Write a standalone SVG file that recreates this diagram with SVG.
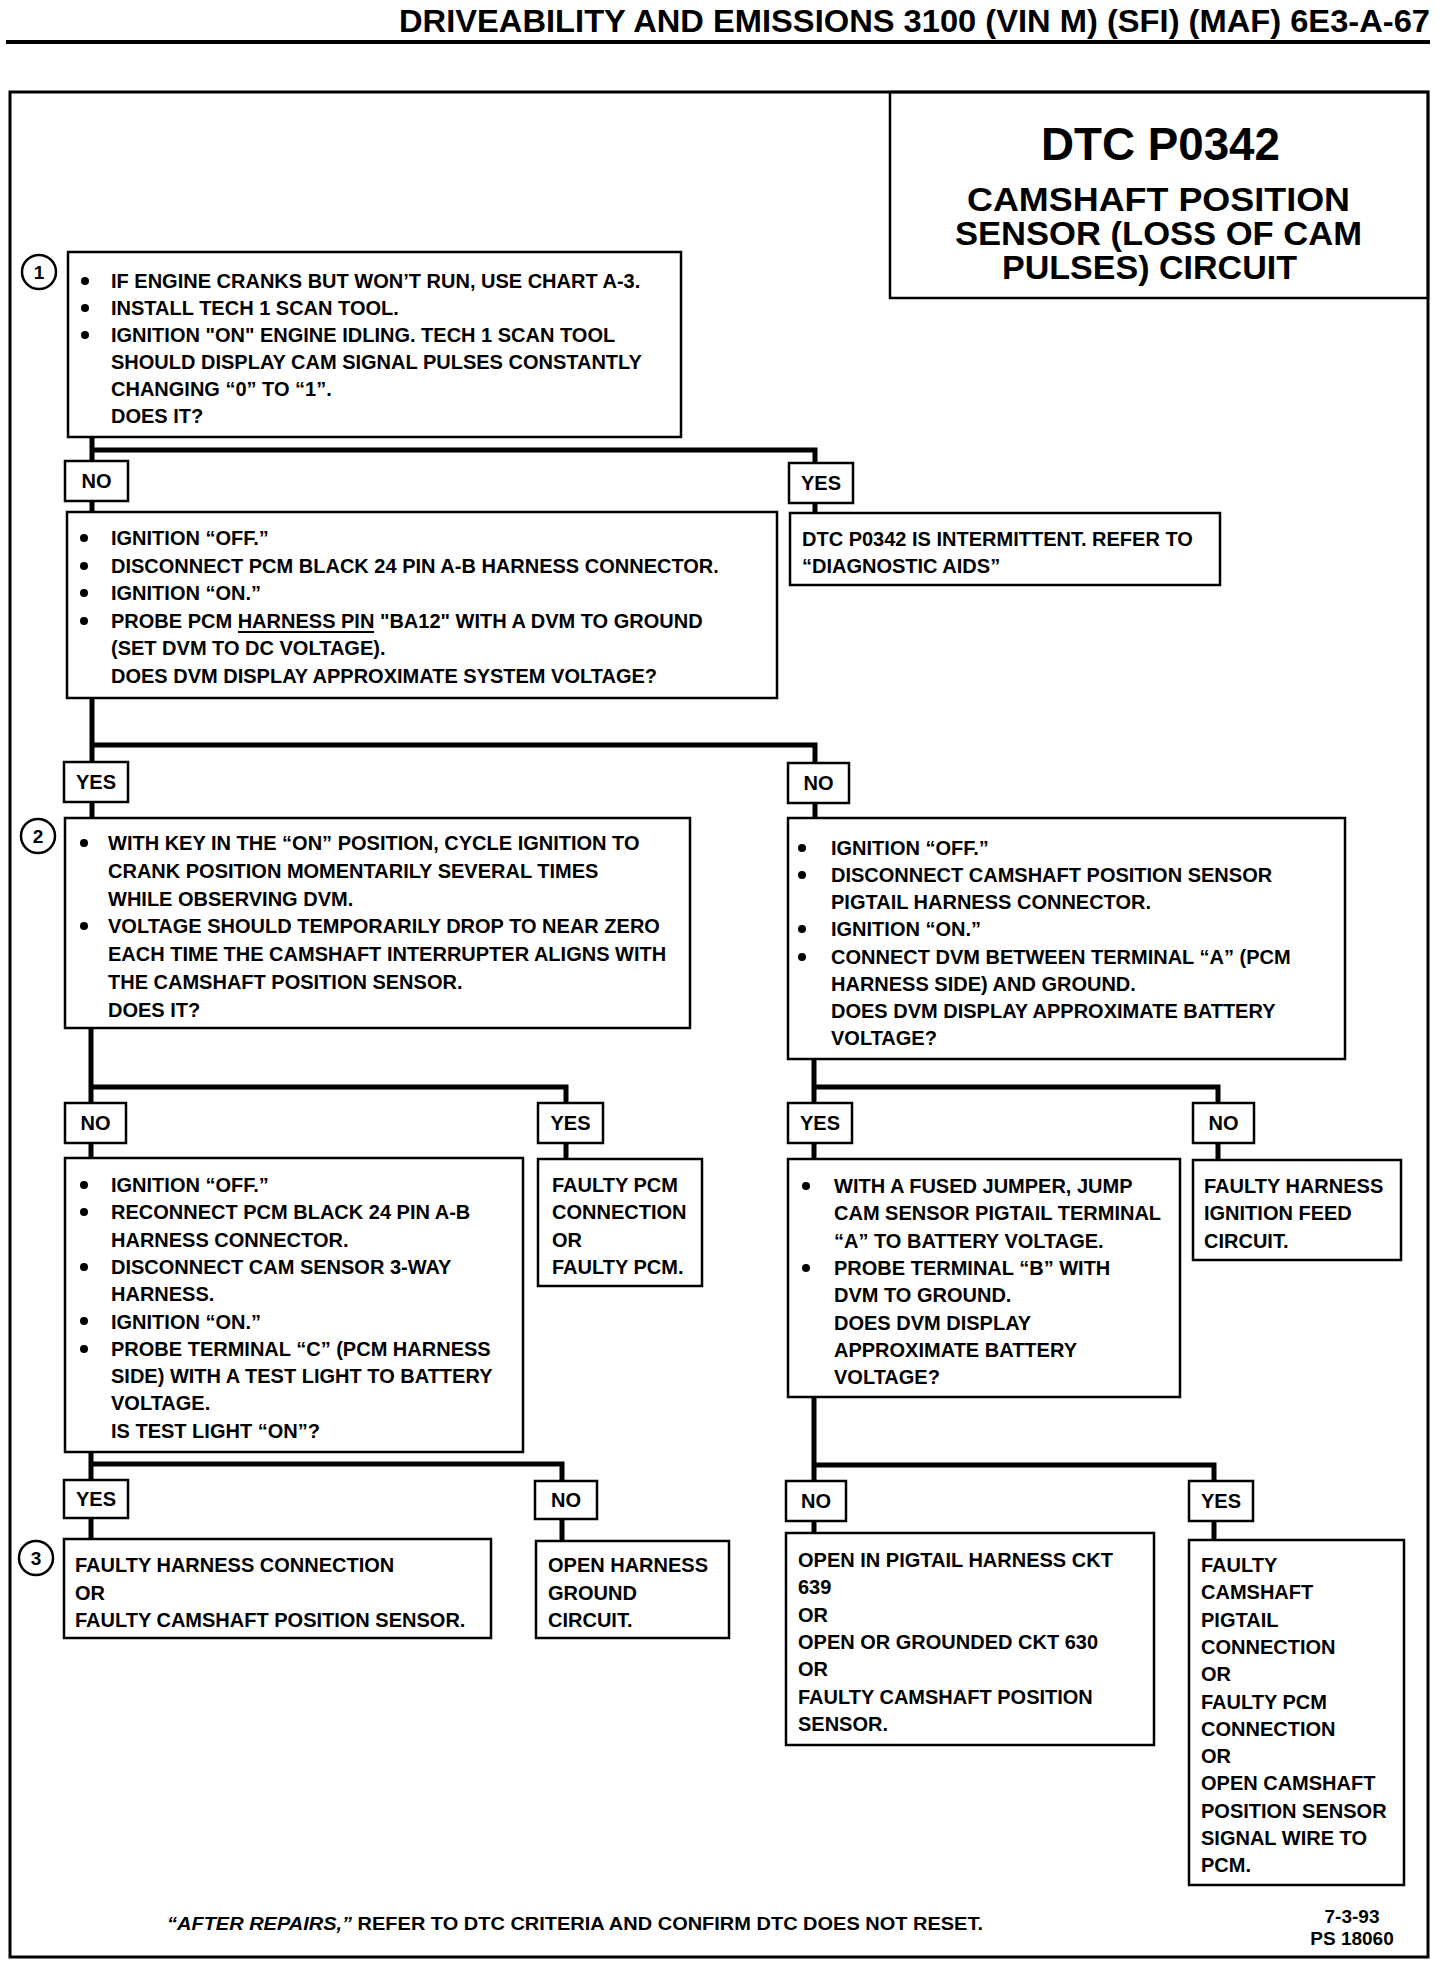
<svg xmlns="http://www.w3.org/2000/svg" width="1456" height="1968" viewBox="0 0 1456 1968">
<style>
.box{fill:#fff;stroke:#000;stroke-width:2.5}
.t{font-family:"Liberation Sans",Arial,sans-serif;font-weight:bold;font-size:20px;fill:#000}
.m{text-anchor:middle}
.c{stroke:#000;stroke-width:5;fill:none}
.num{fill:#fff;stroke:#000;stroke-width:2.5}
.b{fill:#000}
</style>
<rect width="1456" height="1968" fill="#fff"/>
<g id="header">
<text class="t" x="399" y="32" style="font-size:32px" textLength="1031" lengthAdjust="spacingAndGlyphs">DRIVEABILITY AND EMISSIONS  3100  (VIN M)  (SFI)  (MAF)  6E3-A-67</text>
<line x1="6" y1="42" x2="1430" y2="42" stroke="#000" stroke-width="4"/>
</g>
<rect id="frame" x="10" y="92" width="1418" height="1865" fill="none" stroke="#000" stroke-width="3"/>
<g id="title">
<rect x="890" y="92" width="538" height="206" fill="none" stroke="#000" stroke-width="2.5"/>
<text class="t" x="1041" y="160" style="font-size:46px" textLength="239" lengthAdjust="spacingAndGlyphs">DTC P0342</text>
<text class="t" x="967" y="211" style="font-size:34px" textLength="383" lengthAdjust="spacingAndGlyphs">CAMSHAFT POSITION</text>
<text class="t" x="955" y="245" style="font-size:34px" textLength="407" lengthAdjust="spacingAndGlyphs">SENSOR (LOSS OF CAM</text>
<text class="t" x="1002" y="279" style="font-size:34px" textLength="295" lengthAdjust="spacingAndGlyphs">PULSES)  CIRCUIT</text>
</g>
<g id="connectors">
<path class="c" d="M92 437V461M92 450H815V463M92 501V512M815 503V513"/>
<path class="c" d="M92 698V762M92 745H815V763M92 802V818M815 803V818"/>
<path class="c" d="M91 1028V1103M91 1087H566V1103M91 1143V1158M566 1143V1159"/>
<path class="c" d="M814 1059V1103M814 1087H1218V1103M814 1143V1159M1218 1143V1160"/>
<path class="c" d="M91 1452V1480M91 1464H562V1481M91 1518V1539M562 1519V1541"/>
<path class="c" d="M814 1397V1481M814 1465H1214V1481M814 1521V1533M1214 1521V1540"/>
</g>
<g id="labels">
<g id="lbl-no1"><rect class="box" x="65" y="461" width="63" height="40"/><text class="t m" x="96.5" y="488">NO</text></g>
<g id="lbl-yes1"><rect class="box" x="789" y="463" width="64" height="40"/><text class="t m" x="821" y="490">YES</text></g>
<g id="lbl-yes2"><rect class="box" x="64" y="762" width="64" height="40"/><text class="t m" x="96" y="789">YES</text></g>
<g id="lbl-no2"><rect class="box" x="788" y="763" width="61" height="40"/><text class="t m" x="818.5" y="790">NO</text></g>
<g id="lbl-no3"><rect class="box" x="65" y="1103" width="61" height="40"/><text class="t m" x="95.5" y="1130">NO</text></g>
<g id="lbl-yes3"><rect class="box" x="538" y="1103" width="65" height="40"/><text class="t m" x="570.5" y="1130">YES</text></g>
<g id="lbl-yes4"><rect class="box" x="788" y="1103" width="64" height="40"/><text class="t m" x="820" y="1130">YES</text></g>
<g id="lbl-no4"><rect class="box" x="1193" y="1103" width="61" height="40"/><text class="t m" x="1223.5" y="1130">NO</text></g>
<g id="lbl-yes5"><rect class="box" x="64" y="1480" width="64" height="38"/><text class="t m" x="96" y="1506">YES</text></g>
<g id="lbl-no5"><rect class="box" x="535" y="1481" width="62" height="38"/><text class="t m" x="566" y="1507">NO</text></g>
<g id="lbl-no6"><rect class="box" x="786" y="1481" width="60" height="40"/><text class="t m" x="816" y="1508">NO</text></g>
<g id="lbl-yes6"><rect class="box" x="1189" y="1481" width="64" height="40"/><text class="t m" x="1221" y="1508">YES</text></g>
</g>
<g id="step1">
<circle class="num" cx="39" cy="272" r="17"/><text class="t m" x="39" y="279" style="font-size:19px">1</text>
<rect class="box" x="68" y="252" width="613" height="185"/>
<circle class="b" cx="85" cy="281" r="4"/><circle class="b" cx="85" cy="308" r="4"/><circle class="b" cx="85" cy="335" r="4"/>
<text class="t" x="111" y="288">IF ENGINE CRANKS BUT WON’T RUN, USE CHART A-3.</text>
<text class="t" x="111" y="315">INSTALL TECH 1 SCAN TOOL.</text>
<text class="t" x="111" y="342">IGNITION "ON" ENGINE IDLING.  TECH 1 SCAN TOOL</text>
<text class="t" x="111" y="369">SHOULD DISPLAY CAM SIGNAL PULSES CONSTANTLY</text>
<text class="t" x="111" y="396">CHANGING “0” TO “1”.</text>
<text class="t" x="111" y="423">DOES IT?</text>
</g>
<g id="node-pin-test">
<rect class="box" x="67" y="512" width="710" height="186"/>
<circle class="b" cx="84" cy="538" r="4"/><circle class="b" cx="84" cy="566" r="4"/><circle class="b" cx="84" cy="593" r="4"/><circle class="b" cx="84" cy="621" r="4"/>
<text class="t" x="111" y="545">IGNITION “OFF.”</text>
<text class="t" x="111" y="573">DISCONNECT PCM BLACK 24 PIN A-B HARNESS CONNECTOR.</text>
<text class="t" x="111" y="600">IGNITION “ON.”</text>
<text class="t" x="111" y="628">PROBE PCM HARNESS PIN "BA12" WITH A DVM TO GROUND</text>
<line x1="238" y1="632" x2="374" y2="632" stroke="#000" stroke-width="2"/>
<text class="t" x="111" y="655">(SET DVM TO DC VOLTAGE).</text>
<text class="t" x="111" y="683">DOES DVM DISPLAY APPROXIMATE SYSTEM VOLTAGE?</text>
</g>
<g id="node-intermittent">
<rect class="box" x="790" y="513" width="430" height="72"/>
<text class="t" x="802" y="546">DTC P0342 IS INTERMITTENT.  REFER TO</text>
<text class="t" x="802" y="573">“DIAGNOSTIC AIDS”</text>
</g>
<g id="step2">
<circle class="num" cx="38" cy="836" r="17"/><text class="t m" x="38" y="843" style="font-size:19px">2</text>
<rect class="box" x="65" y="818" width="625" height="210"/>
<circle class="b" cx="84" cy="843" r="4"/><circle class="b" cx="84" cy="926" r="4"/>
<text class="t" x="108" y="850">WITH KEY IN THE “ON” POSITION, CYCLE IGNITION TO</text>
<text class="t" x="108" y="878">CRANK POSITION MOMENTARILY SEVERAL TIMES</text>
<text class="t" x="108" y="906">WHILE OBSERVING DVM.</text>
<text class="t" x="108" y="933">VOLTAGE SHOULD TEMPORARILY DROP TO NEAR ZERO</text>
<text class="t" x="108" y="961">EACH TIME THE CAMSHAFT INTERRUPTER ALIGNS WITH</text>
<text class="t" x="108" y="989">THE CAMSHAFT POSITION SENSOR.</text>
<text class="t" x="108" y="1017">DOES IT?</text>
</g>
<g id="node-feed-test">
<rect class="box" x="788" y="818" width="557" height="241"/>
<circle class="b" cx="802" cy="848" r="4"/><circle class="b" cx="802" cy="875" r="4"/><circle class="b" cx="802" cy="929" r="4"/><circle class="b" cx="802" cy="957" r="4"/>
<text class="t" x="831" y="855">IGNITION “OFF.”</text>
<text class="t" x="831" y="882">DISCONNECT CAMSHAFT POSITION SENSOR</text>
<text class="t" x="831" y="909">PIGTAIL HARNESS CONNECTOR.</text>
<text class="t" x="831" y="936">IGNITION “ON.”</text>
<text class="t" x="831" y="964">CONNECT DVM BETWEEN TERMINAL “A” (PCM</text>
<text class="t" x="831" y="991">HARNESS SIDE) AND GROUND.</text>
<text class="t" x="831" y="1018">DOES DVM DISPLAY APPROXIMATE BATTERY</text>
<text class="t" x="831" y="1045">VOLTAGE?</text>
</g>
<g id="node-test-light">
<rect class="box" x="65" y="1158" width="458" height="294"/>
<circle class="b" cx="84" cy="1185" r="4"/><circle class="b" cx="84" cy="1212" r="4"/><circle class="b" cx="84" cy="1267" r="4"/><circle class="b" cx="84" cy="1321" r="4"/><circle class="b" cx="84" cy="1349" r="4"/>
<text class="t" x="111" y="1192">IGNITION “OFF.”</text>
<text class="t" x="111" y="1219">RECONNECT PCM BLACK 24 PIN A-B</text>
<text class="t" x="111" y="1247">HARNESS CONNECTOR.</text>
<text class="t" x="111" y="1274">DISCONNECT CAM SENSOR 3-WAY</text>
<text class="t" x="111" y="1301">HARNESS.</text>
<text class="t" x="111" y="1329">IGNITION  “ON.”</text>
<text class="t" x="111" y="1356">PROBE TERMINAL “C” (PCM HARNESS</text>
<text class="t" x="111" y="1383">SIDE) WITH A TEST LIGHT TO BATTERY</text>
<text class="t" x="111" y="1410">VOLTAGE.</text>
<text class="t" x="111" y="1438">IS TEST LIGHT “ON”?</text>
</g>
<g id="node-faulty-pcm">
<rect class="box" x="538" y="1159" width="164" height="127"/>
<text class="t" x="552" y="1192">FAULTY PCM</text>
<text class="t" x="552" y="1219">CONNECTION</text>
<text class="t" x="552" y="1247">OR</text>
<text class="t" x="552" y="1274">FAULTY PCM.</text>
</g>
<g id="node-jumper">
<rect class="box" x="788" y="1159" width="392" height="238"/>
<circle class="b" cx="806" cy="1186" r="4"/><circle class="b" cx="806" cy="1268" r="4"/>
<text class="t" x="834" y="1193">WITH A FUSED JUMPER, JUMP</text>
<text class="t" x="834" y="1220">CAM SENSOR PIGTAIL TERMINAL</text>
<text class="t" x="834" y="1248">“A” TO BATTERY VOLTAGE.</text>
<text class="t" x="834" y="1275">PROBE TERMINAL “B” WITH</text>
<text class="t" x="834" y="1302">DVM TO GROUND.</text>
<text class="t" x="834" y="1330">DOES DVM DISPLAY</text>
<text class="t" x="834" y="1357">APPROXIMATE BATTERY</text>
<text class="t" x="834" y="1384">VOLTAGE?</text>
</g>
<g id="node-ign-feed">
<rect class="box" x="1193" y="1160" width="208" height="100"/>
<text class="t" x="1204" y="1193">FAULTY HARNESS</text>
<text class="t" x="1204" y="1220">IGNITION FEED</text>
<text class="t" x="1204" y="1248">CIRCUIT.</text>
</g>
<g id="step3">
<circle class="num" cx="36" cy="1558" r="17"/><text class="t m" x="36" y="1565" style="font-size:19px">3</text>
<rect class="box" x="64" y="1539" width="427" height="99"/>
<text class="t" x="75" y="1572">FAULTY HARNESS CONNECTION</text>
<text class="t" x="75" y="1600">OR</text>
<text class="t" x="75" y="1627">FAULTY CAMSHAFT POSITION SENSOR.</text>
</g>
<g id="node-open-ground">
<rect class="box" x="536" y="1541" width="193" height="97"/>
<text class="t" x="548" y="1572">OPEN HARNESS</text>
<text class="t" x="548" y="1600">GROUND</text>
<text class="t" x="548" y="1627">CIRCUIT.</text>
</g>
<g id="node-open-pigtail">
<rect class="box" x="786" y="1533" width="368" height="212"/>
<text class="t" x="798" y="1567">OPEN IN PIGTAIL HARNESS CKT</text>
<text class="t" x="798" y="1594">639</text>
<text class="t" x="798" y="1622">OR</text>
<text class="t" x="798" y="1649">OPEN OR GROUNDED CKT 630</text>
<text class="t" x="798" y="1676">OR</text>
<text class="t" x="798" y="1704">FAULTY CAMSHAFT POSITION</text>
<text class="t" x="798" y="1731">SENSOR.</text>
</g>
<g id="node-faulty-camshaft">
<rect class="box" x="1189" y="1540" width="215" height="345"/>
<text class="t" x="1201" y="1572">FAULTY</text>
<text class="t" x="1201" y="1599">CAMSHAFT</text>
<text class="t" x="1201" y="1627">PIGTAIL</text>
<text class="t" x="1201" y="1654">CONNECTION</text>
<text class="t" x="1201" y="1681">OR</text>
<text class="t" x="1201" y="1709">FAULTY PCM</text>
<text class="t" x="1201" y="1736">CONNECTION</text>
<text class="t" x="1201" y="1763">OR</text>
<text class="t" x="1201" y="1790">OPEN CAMSHAFT</text>
<text class="t" x="1201" y="1818">POSITION SENSOR</text>
<text class="t" x="1201" y="1845">SIGNAL WIRE TO</text>
<text class="t" x="1201" y="1872">PCM.</text>
</g>
<g id="footer">
<text class="t" x="167" y="1930" style="font-size:19px" textLength="816" lengthAdjust="spacingAndGlyphs"><tspan font-style="italic">“AFTER REPAIRS,”</tspan> REFER TO DTC CRITERIA  AND CONFIRM DTC DOES NOT RESET.</text>
<text class="t m" x="1352" y="1923" style="font-size:19px">7-3-93</text>
<text class="t m" x="1352" y="1945" style="font-size:19px">PS 18060</text>
</g>
</svg>
